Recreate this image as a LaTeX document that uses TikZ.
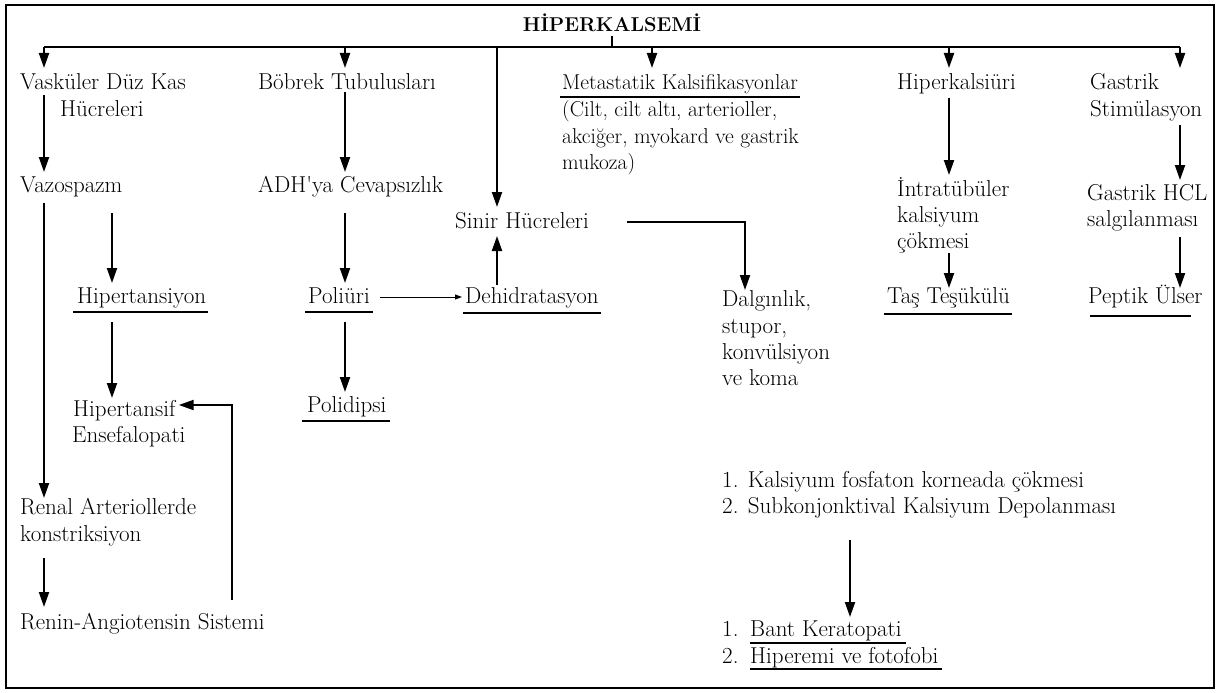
\documentclass[tikz,border=0pt]{standalone}
\usepackage{fontspec}
\usetikzlibrary{arrows.meta}
\tikzset{
  txt/.style={anchor=base west, inner sep=0pt, font=\fontsize{23}{26}\selectfont},
  txts/.style={anchor=base west, inner sep=0pt, font=\fontsize{21.5}{26}\selectfont},
  ttl/.style={anchor=base, inner sep=0pt, font=\fontsize{20}{24}\selectfont\bfseries\addfontfeatures{LetterSpace=18}},
  arr/.style={line width=2pt, -{Triangle[length=15pt,width=10pt]}},
  thinarr/.style={line width=1pt, -{Triangle[length=7pt,width=5pt]}},
  ln/.style={line width=1.8pt},
  ul/.style={line width=1.3pt},
  frame/.style={line width=1.2pt}
}
\begin{document}
\begin{tikzpicture}[x=1pt,y=-1pt]
\useasboundingbox (0,0) rectangle (1223,693);
\draw[frame] (6,5) rectangle (1214,688);

% title and bus
\node[ttl] (title) at (612,32) {HİPERKALSEMİ};
\coordinate (bS) at (612,47);
\coordinate (d1) at (44,47);
\coordinate (d2) at (345,47);
\coordinate (d6) at (497,47);
\coordinate (d3) at (652,47);
\coordinate (d4) at (949,47);
\coordinate (d5) at (1180,47);
\draw[ln] ([yshift=-4pt]title.south) -- (bS);
\draw[ln] (d1) -- (d5);

% nodes
\node[txt] (vas1) at (20,89) {Vasküler Düz Kas};
\node[txt] (vas2) at (60,116) {Hücreleri};
\node[txt] (bob) at (258,89) {Böbrek Tubulusları};
\node[txts] (met) at (562,89) {Metastatik Kalsifikasyonlar};
\node[txts] (cil1) at (562,116) {(Cilt, cilt altı, arterioller,};
\node[txts] (cil2) at (562,143) {akciğer, myokard ve gastrik};
\node[txts] (cil3) at (562,169) {mukoza)};
\node[txt] (hk) at (897,89) {Hiperkalsiüri};
\node[txt] (gas1) at (1090,89) {Gastrik};
\node[txt] (gas2) at (1090,116) {Stimülasyon};
\node[txt] (vazo) at (20,192) {Vazospazm};
\node[txt] (adh) at (258,192) {ADH\textquotesingle ya Cevapsızlık};
\node[txt] (int1) at (897,196) {İntratübüler};
\node[txt] (int2) at (897,222) {kalsiyum};
\node[txt] (int3) at (897,248) {çökmesi};
\node[txt] (hcl1) at (1087,200) {Gastrik HCL};
\node[txt] (hcl2) at (1087,226) {salgılanması};
\node[txt] (sin) at (455,228) {Sinir Hücreleri};
\node[txt] (hip) at (77,303) {Hipertansiyon};
\node[txt] (pol) at (308,303) {Poliüri};
\node[txt] (deh) at (465,303) {Dehidratasyon};
\node[txt] (dal1) at (722,306) {Dalgınlık,};
\node[txt] (dal2) at (722,333) {stupor,};
\node[txt] (dal3) at (722,359) {konvülsiyon};
\node[txt] (dal4) at (722,385) {ve koma};
\node[txt] (tas) at (887,303) {Taş Teşükülü};
\node[txt] (pep) at (1088,303) {Peptik Ülser};
\node[txt] (hs1) at (73,416) {Hipertansif};
\node[txt] (hs2) at (72,442) {Ensefalopati};
\node[txt] (pld) at (307,412) {Polidipsi};
\node[txt] (k1) at (722,487) {1. Kalsiyum fosfaton korneada çökmesi};
\node[txt] (k2) at (722,513) {2. Subkonjonktival Kalsiyum Depolanması};
\node[txt] (ren1) at (20,514) {Renal Arteriollerde};
\node[txt] (ren2) at (20,541) {konstriksiyon};
\node[txt] (rs) at (20,629) {Renin-Angiotensin Sistemi};
\node[txt] (b1n) at (722,636) {1.};
\node[txt] (b1t) at (750,636) {Bant Keratopati};
\node[txt] (b2n) at (722,663) {2.};
\node[txt] (b2t) at (750,663) {Hiperemi ve fotofobi};

% underlines
\draw[ul] ([xshift=-2pt,yshift=-8pt]met.base west) -- ([xshift=2pt,yshift=-8pt]met.base east);
\draw[ul] ([xshift=-4pt,yshift=-9pt]hip.base west) -- ([xshift=2pt,yshift=-9pt]hip.base east);
\draw[ul] ([xshift=-3pt,yshift=-9pt]pol.base west) -- ([xshift=3pt,yshift=-9pt]pol.base east);
\draw[ul] ([xshift=-2pt,yshift=-10pt]deh.base west) -- ([xshift=2pt,yshift=-10pt]deh.base east);
\draw[ul] ([xshift=-3pt,yshift=-11pt]tas.base west) -- ([xshift=2pt,yshift=-11pt]tas.base east);
\draw[ul] ([xshift=2pt,yshift=-13pt]pep.base west) -- ([xshift=-12pt,yshift=-13pt]pep.base east);
\draw[ul] ([xshift=-5pt,yshift=-9pt]pld.base west) -- ([xshift=3pt,yshift=-9pt]pld.base east);
\draw[ul] ([yshift=-7pt]b1t.base west) -- ([xshift=4pt,yshift=-7pt]b1t.base east);
\draw[ul] ([yshift=-6pt]b2t.base west) -- ([xshift=3pt,yshift=-6pt]b2t.base east);

% drops from the bus
\draw[arr] (d1) -- ([xshift=24pt,yshift=21pt]vas1.base west);
\draw[arr] (d2) -- ([xshift=87pt,yshift=21pt]bob.base west);
\draw[arr] (d3) -- ([xshift=90pt,yshift=21pt]met.base west);
\draw[arr] (d4) -- ([xshift=52pt,yshift=21pt]hk.base west);
\draw[arr] (d5) -- ([xshift=90pt,yshift=21pt]gas1.base west);
\draw[arr] (d6) -- ([xshift=42pt,yshift=21pt]sin.base west);

% chains
\draw[arr] ([xshift=24pt,yshift=-6pt]vas1.base west) -- ([xshift=24pt,yshift=20pt]vazo.base west);
\draw[arr] ([xshift=87pt,yshift=-3pt]bob.base west) -- ([xshift=87pt,yshift=20pt]adh.base west);
\draw[arr] ([xshift=52pt,yshift=-9pt]hk.base west) -- ([xshift=52pt,yshift=21pt]int1.base west);
\draw[arr] ([xshift=90pt,yshift=-9pt]gas2.base west) -- ([xshift=93pt,yshift=20pt]hcl1.base west);
\draw[arr] ([xshift=24pt,yshift=-11pt]vazo.base west) -- ([xshift=24pt,yshift=16pt]ren1.base west);
\draw[arr] ([xshift=92pt,yshift=-21pt]vazo.base west) -- ([xshift=35pt,yshift=20pt]hip.base west);
\draw[arr] ([xshift=87pt,yshift=-21pt]adh.base west) -- ([xshift=37pt,yshift=20pt]pol.base west);
\draw[arr] ([xshift=32pt,yshift=18pt]deh.base west) -- ([xshift=42pt,yshift=-8pt]sin.base west);
\draw[arr] ([xshift=172pt,yshift=6pt]sin.base west) -| ([xshift=23pt,yshift=16pt]dal1.base west);
\draw[arr] ([xshift=52pt,yshift=-5pt]int3.base west) -- ([xshift=62pt,yshift=15pt]tas.base west);
\draw[arr] ([xshift=93pt,yshift=-11pt]hcl2.base west) -- ([xshift=92pt,yshift=15pt]pep.base west);
\draw[arr] ([xshift=35pt,yshift=-19pt]hip.base west) -- ([xshift=39pt,yshift=18pt]hs1.base west);
\draw[arr] ([xshift=37pt,yshift=-19pt]pol.base west) -- ([xshift=38pt,yshift=20pt]pld.base west);
\draw[thinarr] ([xshift=10pt,yshift=6pt]pol.base east) -- ([xshift=-3pt,yshift=6pt]deh.base west);
\draw[arr] ([xshift=24pt,yshift=-17pt]ren2.base west) -- ([xshift=24pt,yshift=22pt]rs.base west);
\draw[arr] ([xshift=212pt,yshift=29pt]rs.base west) |- ([xshift=3pt,yshift=11pt]hs1.base east);
\draw[arr] ([xshift=128pt,yshift=-27pt]k2.base west) -- ([xshift=128pt,yshift=19pt]b1n.base west);
\end{tikzpicture}
\end{document}
